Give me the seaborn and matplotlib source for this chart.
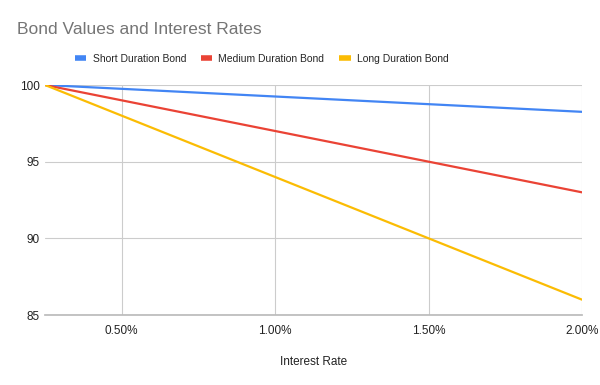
import matplotlib
matplotlib.use("Agg")
import matplotlib.pyplot as plt
import seaborn as sns
import pandas as pd
from matplotlib.ticker import FuncFormatter
from matplotlib.lines import Line2D

rates = [0.25, 0.50, 0.75, 1.00, 1.25, 1.50, 1.75, 2.00]
short_bond = [100, 99.75, 99.5, 99.25, 99, 98.75, 98.5, 98.25]
medium_bond = [100, 99, 98, 97, 96, 95, 94, 93]
long_bond = [100, 98, 96, 94, 92, 90, 88, 86]
series_names = ["Short Duration Bond", "Medium Duration Bond", "Long Duration Bond"]
colors = ["#4285F4", "#EA4335", "#FBBC04"]

df = pd.DataFrame({"rate": rates * 3,
                   "value": short_bond + medium_bond + long_bond,
                   "series": [series_names[0]] * len(rates) + [series_names[1]] * len(rates) + [series_names[2]] * len(rates)})

sns.set_theme(style="white")
plt.rcParams["font.family"] = ["Liberation Sans", "DejaVu Sans"]

fig = plt.figure(figsize=(6, 3.85), dpi=100)
ax = fig.add_axes([45/600, 1 - 315/385, (582 - 45)/600, (315 - 85)/385])

sns.lineplot(data=df, x="rate", y="value", hue="series", palette=colors,
             hue_order=series_names, linewidth=1.6, ax=ax, legend=False)

ax.set_xlim(0.25, 2.0)
ax.set_ylim(85, 100)
ax.set_xticks([0.5, 1.0, 1.5, 2.0])
ax.set_yticks([85, 90, 95, 100])
ax.xaxis.set_major_formatter(FuncFormatter(lambda v, p: f"{v:.2f}%"))
ax.yaxis.set_major_formatter(FuncFormatter(lambda v, p: f"{v:.0f}"))
ax.grid(True, color="#cccccc", linewidth=0.8)
for s in ["top", "right", "left"]:
    ax.spines[s].set_visible(False)
ax.spines["bottom"].set_color("#bbbbbb")
ax.tick_params(axis="both", length=0, labelsize=8.5, colors="#222222")
ax.tick_params(axis="x", pad=7)
ax.tick_params(axis="y", pad=4)
ax.set_xlabel("Interest Rate", fontsize=8.5, color="#222222", labelpad=14)
ax.set_ylabel("")

fig.text(17/600, 1 - 30/385, "Bond Values and Interest Rates", fontsize=12.5,
         color="#757575", va="center", ha="left")

handles = [Line2D([0], [0], color=c, linewidth=4, solid_capstyle="butt") for c in colors]
fig.legend(handles, series_names, loc="center left", bbox_to_anchor=(75/600, 1 - 59/385),
           ncol=3, frameon=False, fontsize=7.5, handlelength=1.1, handletextpad=0.6,
           columnspacing=1.4, borderaxespad=0, borderpad=0)

fig.savefig("out.png", dpi=100)
